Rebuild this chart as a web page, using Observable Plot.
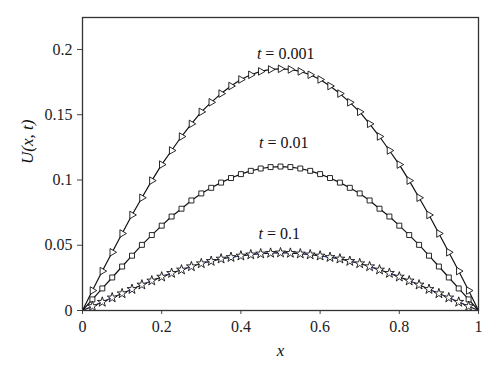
<!DOCTYPE html>
<html>
<head>
<meta charset="utf-8">
<script src="https://cdn.jsdelivr.net/npm/d3@7"></script>
<script src="https://cdn.jsdelivr.net/npm/@observablehq/plot@0.6"></script>
<style>
  html, body { margin: 0; padding: 0; background: #fff; }
  svg, svg text { font-family: "Liberation Serif" !important; }
</style>
</head>
<body>
<div id="chart"></div>
<script>
const xGrid = [0, 0.025, 0.05, 0.075, 0.1, 0.125, 0.15, 0.175, 0.2, 0.225, 0.25, 0.275, 0.3, 0.325, 0.35, 0.375, 0.4, 0.425, 0.45, 0.475, 0.5,
  0.525, 0.55, 0.575, 0.6, 0.625, 0.65, 0.675, 0.7, 0.725, 0.75, 0.775, 0.8, 0.825, 0.85, 0.875, 0.9, 0.925, 0.95, 0.975, 1];

const u_t0001 = [0, 0.0153, 0.0302, 0.0446, 0.0590, 0.0732, 0.0864, 0.0995, 0.1118, 0.1226, 0.1333, 0.1430, 0.1522, 0.1595, 0.1662, 0.1720, 0.1770, 0.1806, 0.1832, 0.1847, 0.1852,
  0.1847, 0.1832, 0.1806, 0.1770, 0.1720, 0.1662, 0.1595, 0.1522, 0.1430, 0.1333, 0.1226, 0.1118, 0.0995, 0.0864, 0.0732, 0.0590, 0.0446, 0.0302, 0.0153, 0];

const u_t001 = [0, 0.0085, 0.0169, 0.0253, 0.0337, 0.0420, 0.0503, 0.0578, 0.0650, 0.0720, 0.0780, 0.0843, 0.0897, 0.0940, 0.0980, 0.1015, 0.1045, 0.1070, 0.1088, 0.1099, 0.1103,
  0.1099, 0.1088, 0.1070, 0.1045, 0.1015, 0.0980, 0.0940, 0.0897, 0.0843, 0.0780, 0.0720, 0.0650, 0.0578, 0.0503, 0.0420, 0.0337, 0.0253, 0.0169, 0.0085, 0];

const u_t01 = [0, 0.0032, 0.0065, 0.0098, 0.0130, 0.0163, 0.0197, 0.0228, 0.0258, 0.0286, 0.0312, 0.0337, 0.0360, 0.0378, 0.0396, 0.0408, 0.0419, 0.0428, 0.0435, 0.0440, 0.0443,
  0.0440, 0.0435, 0.0428, 0.0419, 0.0408, 0.0396, 0.0378, 0.0360, 0.0337, 0.0312, 0.0286, 0.0258, 0.0228, 0.0197, 0.0163, 0.0130, 0.0098, 0.0065, 0.0032, 0];

const xTicks = [0, 0.2, 0.4, 0.6, 0.8, 1];
const xTickLabels = ["0", "0.2", "0.4", "0.6", "0.8", "1"];
const yTicks = [0, 0.05, 0.1, 0.15, 0.2];
const yTickLabels = ["0", "0.05", "0.1", "0.15", "0.2"];

const curveLabels = ["0.001", "0.01", "0.1"];
const labelX = [0.513, 0.508, 0.497];
const labelY = [0.197, 0.1287, 0.059];

const mk = (arr) => xGrid.map((x, i) => ({x, u: arr[i]}));
const s1 = mk(u_t0001), s2 = mk(u_t001), s3 = mk(u_t01);
const inner = (s) => s.slice(1, -1);
const labels = curveLabels.map((v, i) => ({text: "t = " + v, x: labelX[i], y: labelY[i]}));

const ink = "#111";
const serif = "Liberation Serif";
const chart = Plot.plot({
  width: 500,
  height: 380,
  marginLeft: 82,
  marginRight: 22,
  marginTop: 17,
  marginBottom: 70,
  style: {fontFamily: serif, fontSize: "15px", color: "#222", background: "#fff"},
  x: {domain: [0, 1]},
  y: {domain: [0, 0.2245]},
  marks: [
    Plot.axisX({ticks: xTicks, tickFormat: (d) => xTickLabels[xTicks.indexOf(d)], tickSize: 4, tickPadding: 6, label: null, stroke: "#444", fontSize: 16, fontFamily: serif}),
    Plot.axisY({ticks: yTicks, tickFormat: (d) => yTickLabels[yTicks.indexOf(d)], tickSize: 5, tickPadding: 5, label: null, stroke: "#444", fontSize: 16, fontFamily: serif}),
    Plot.line(s3, {x: "x", y: "u", stroke: ink, strokeWidth: 1.2}),
    Plot.line(s3, {x: "x", y: "u", stroke: "#3344bb", strokeWidth: 0.9, strokeDasharray: "3,4"}),
    Plot.line(s2, {x: "x", y: "u", stroke: ink, strokeWidth: 1.2}),
    Plot.line(s1, {x: "x", y: "u", stroke: ink, strokeWidth: 1.2}),
    Plot.dot(inner(s1), {x: "x", y: "u", symbol: "triangle", rotate: 90, r: 2.8, fill: "white", stroke: ink, strokeWidth: 0.9}),
    Plot.dot(inner(s2), {x: "x", y: "u", symbol: "square", r: 2.8, fill: "white", stroke: ink, strokeWidth: 0.9}),
    Plot.dot(inner(s3), {x: "x", y: "u", symbol: "star", r: 3.1, fill: "white", stroke: ink, strokeWidth: 0.9}),
    Plot.text(labels, {x: "x", y: "y", text: "text", fontSize: 16, fontFamily: serif, fill: "#111", className: "curve-label"}),
    Plot.text(["U(x, t)"], {frameAnchor: "left", dx: -55, rotate: -90, fontSize: 17, fontFamily: serif, fontStyle: "italic", fill: "#111"}),
    Plot.text(["x"], {frameAnchor: "bottom", dy: 45, fontSize: 17, fontFamily: serif, fontStyle: "italic", fill: "#111"}),
    Plot.frame({stroke: "#333", strokeWidth: 1.3})
  ]
});

// italicise the variable "t" in curve labels
chart.querySelectorAll(".curve-label text").forEach((el) => {
  const s = el.textContent;
  if (s.startsWith("t ")) {
    el.textContent = "";
    const ns = "http://www.w3.org/2000/svg";
    const a = document.createElementNS(ns, "tspan");
    a.setAttribute("font-style", "italic");
    a.textContent = "t";
    const b = document.createElementNS(ns, "tspan");
    b.textContent = s.slice(1);
    el.appendChild(a);
    el.appendChild(b);
  }
});

document.getElementById("chart").appendChild(chart);
</script>
</body>
</html>
